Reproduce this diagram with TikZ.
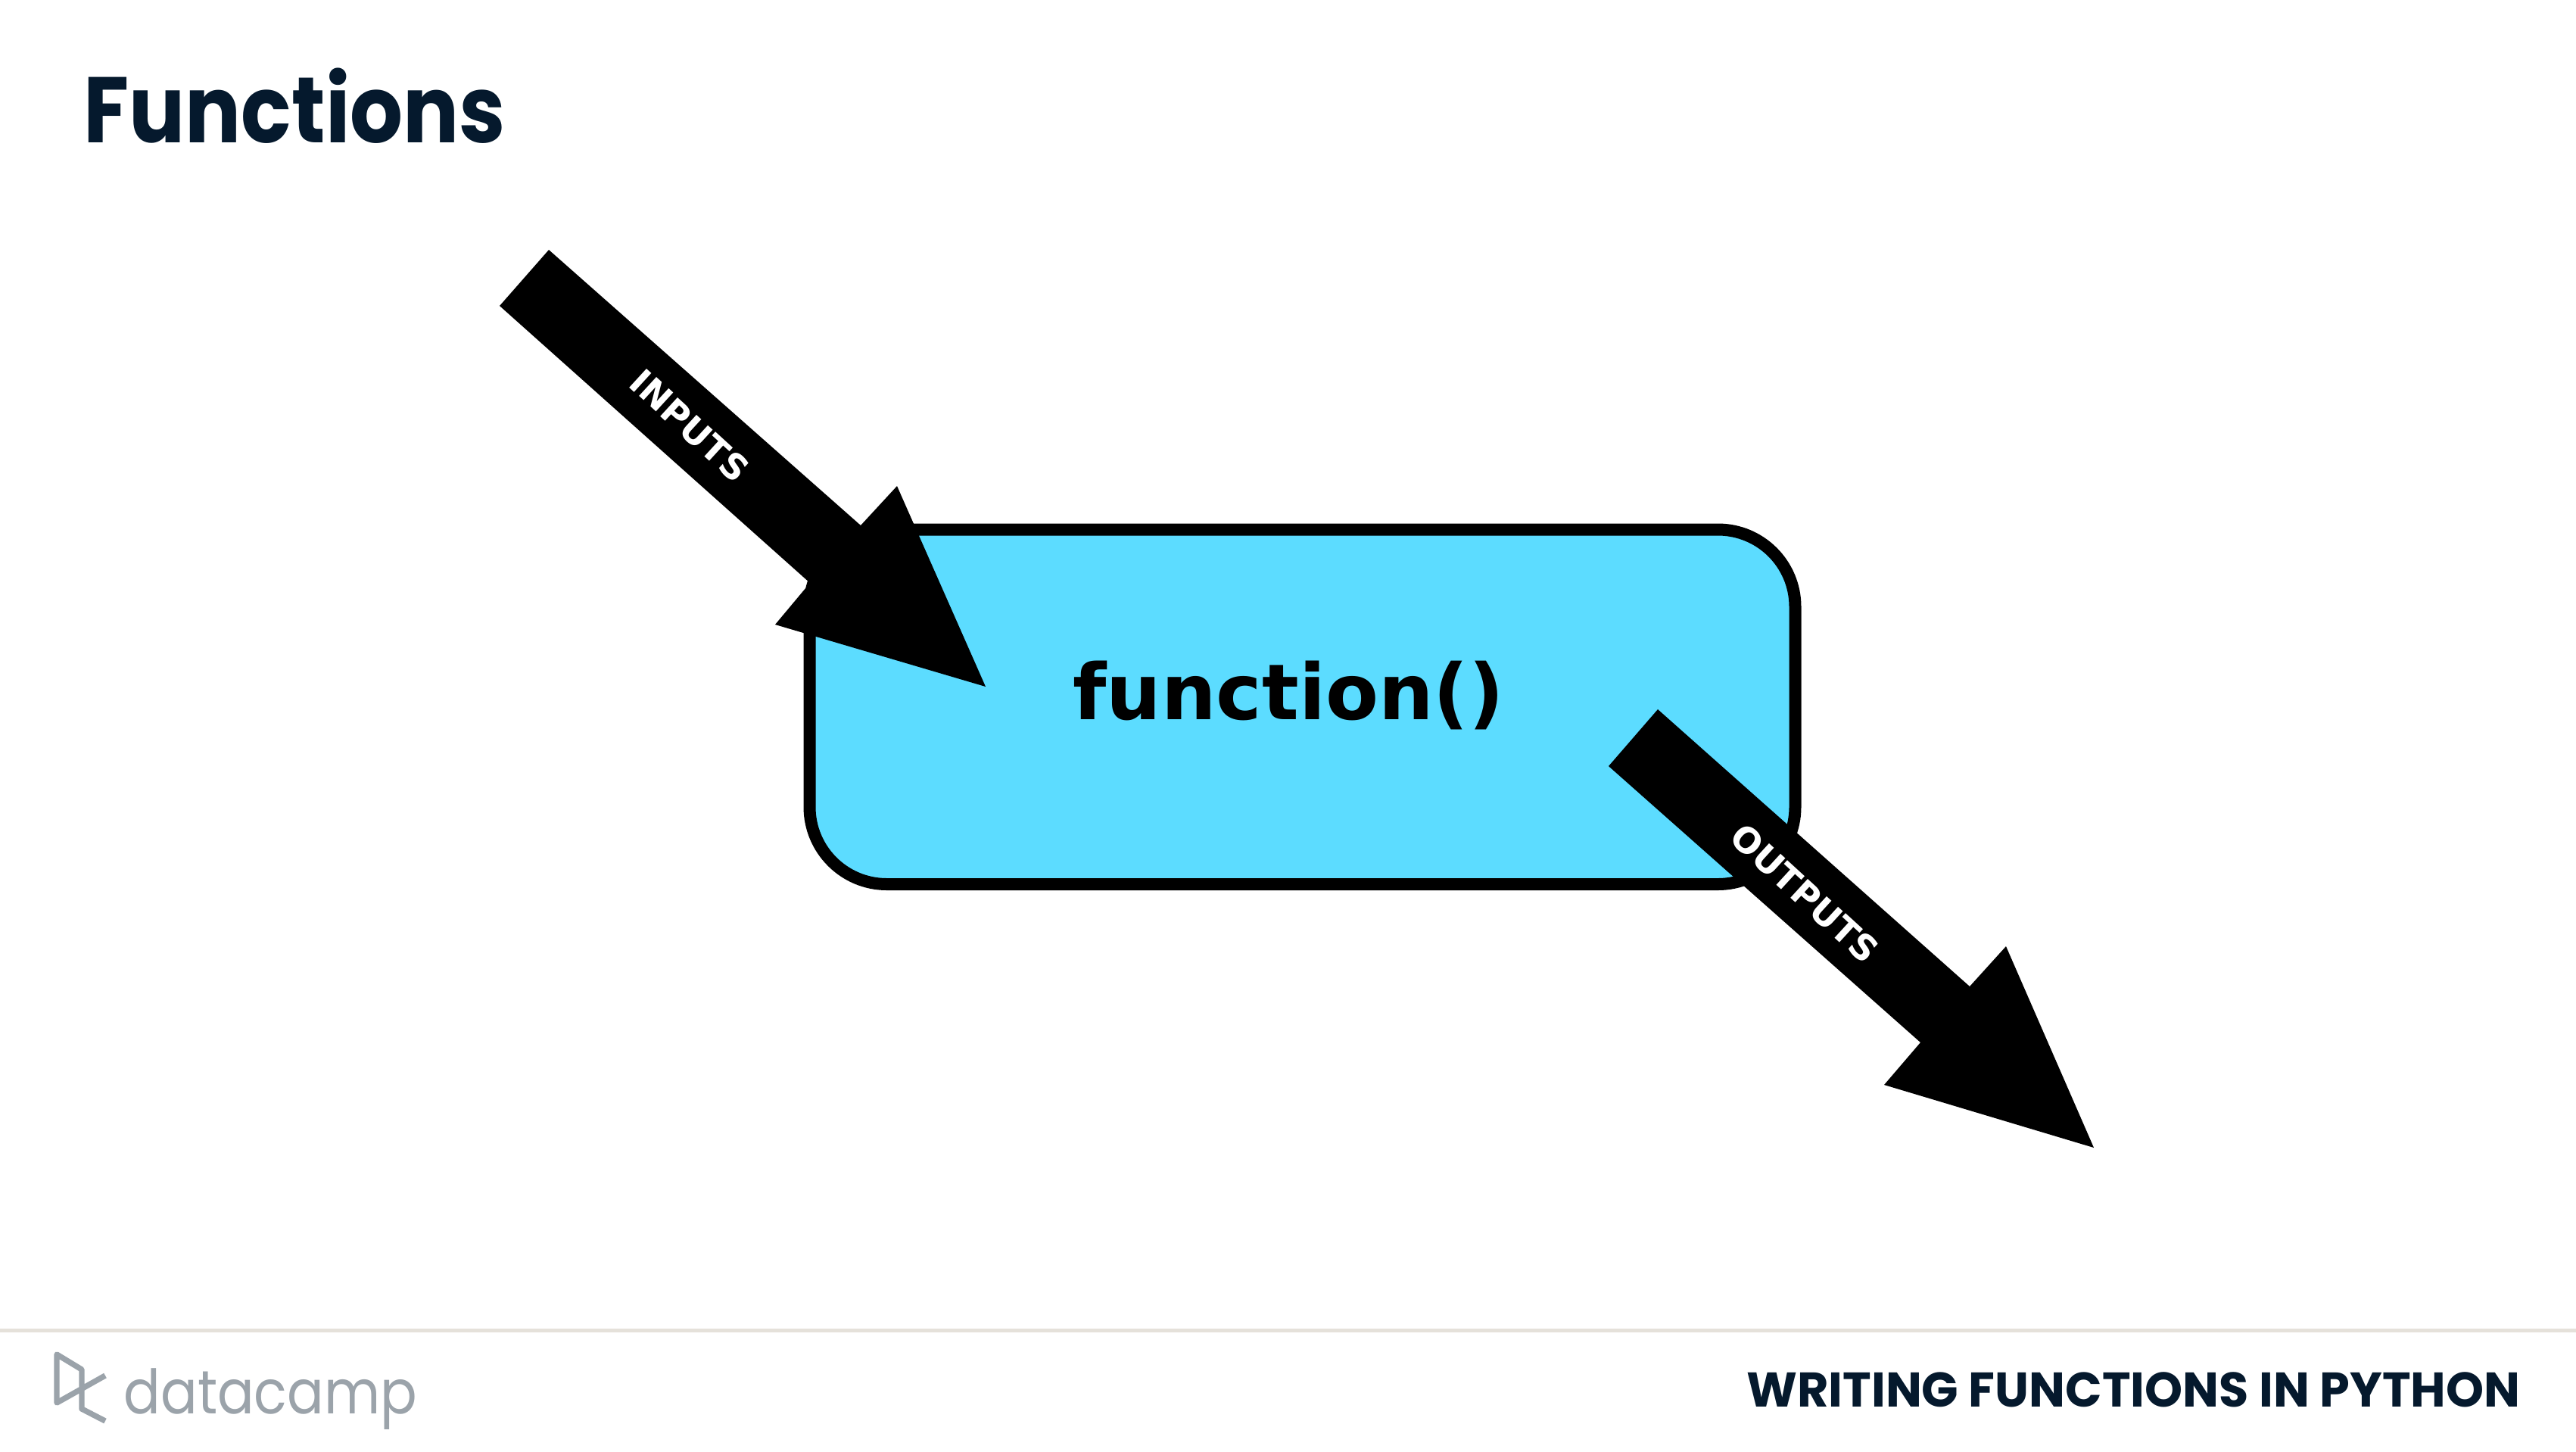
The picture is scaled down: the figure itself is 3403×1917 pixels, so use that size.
\documentclass[tikz,border=0pt]{standalone}
\usepackage{fontspec}
\setmainfont{Poppins}
\newfontfamily\headfont[FakeStretch=0.893]{Poppins}
\newfontfamily\footfont[FakeStretch=0.99]{Poppins}
\newfontfamily\logofont[FakeStretch=0.89]{Poppins}
\newfontfamily\dejavu{DejaVu Sans}
\definecolor{navy}{HTML}{05192D}
\definecolor{boxblue}{HTML}{5CDCFF}
\definecolor{logogrey}{HTML}{9BA3AA}
\definecolor{rulegrey}{HTML}{E5E1DA}
\tikzset{
  titletext/.style={font=\headfont\fontsize{35}{35}\selectfont\bfseries, text=navy, inner sep=0pt, anchor=base west},
  footertext/.style={font=\footfont\fontsize{18.3}{18.3}\selectfont\bfseries, text=navy, inner sep=0pt, anchor=base east},
  arrowlabel/.style={font=\dejavu\fontsize{13.2}{13.2}\selectfont\bfseries, text=white, inner sep=0pt, rotate=-42.5},
  functext/.style={font=\dejavu\fontsize{29}{29}\selectfont\bfseries, text=black, inner sep=0pt, anchor=base},
  logotext/.style={font=\logofont\fontsize{23}{23}\selectfont, text=logogrey, inner sep=0pt, anchor=base west},
  logoline/.style={draw=logogrey, line width=2.1pt, line join=round},
  fnbox/.style={draw=black, fill=boxblue, line width=4.55pt, rounded corners=29pt}
}
\begin{document}
\begin{tikzpicture}[x=0.01cm,y=-0.01cm]
\useasboundingbox (0,0) rectangle (3403,1917);
\fill[white] (0,0) rectangle (3403,1917);
\node[titletext] (title) at (110,188) {Functions};
% function box
\path[fnbox] (1069.5,699.5) rectangle (2371.5,1168);
\node[functext] (func) at (1702,950) {function()};
% inputs arrow
\fill[black] (725,330) -- (1137,694) -- (1185,642) -- (1302,907) -- (1024,825) -- (1070,770) -- (660,404) -- cycle;
\node[arrowlabel] (inputs) at (911,562) {INPUTS};
% outputs arrow
\fill[black] (2190,937) -- (2602,1303) -- (2650,1250) -- (2766,1516) -- (2489,1433) -- (2537,1377) -- (2125,1012) -- cycle;
\node[arrowlabel] (outputs) at (2384,1180) {OUTPUTS};
% footer
\fill[rulegrey] (0,1755) rectangle (3403,1760);
\draw[logoline] (139,1817) -- (75,1853) -- (75,1789) -- (108,1809) -- (108,1861) -- (139,1877);
\node[logotext] (logo) at (163,1867) {datacamp};
\node[footertext] (course) at (3330,1858) {WRITING FUNCTIONS IN PYTHON};
\end{tikzpicture}
\end{document}
